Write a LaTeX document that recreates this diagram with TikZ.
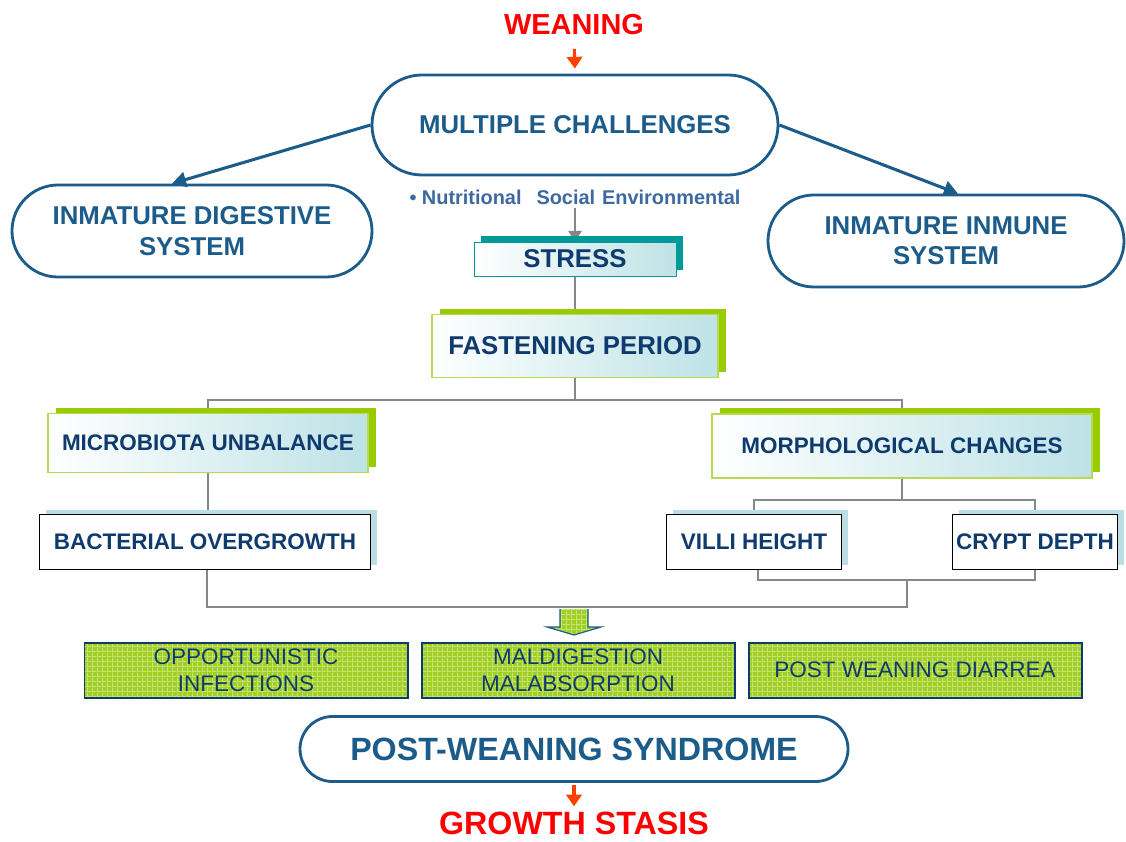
\documentclass[tikz,border=0pt]{standalone}
\usepackage{fontspec}
\setmainfont{Liberation Sans}
\usetikzlibrary{shapes.misc,arrows.meta,shadows,patterns,backgrounds}

\definecolor{pillblue}{RGB}{28,92,138}
\definecolor{navytext}{RGB}{14,58,110}
\definecolor{factorblue}{RGB}{62,104,160}
\definecolor{tealshadow}{RGB}{0,153,153}
\definecolor{limeshadow}{RGB}{153,204,0}
\definecolor{limeline}{RGB}{184,218,80}
\definecolor{cyanshade}{RGB}{190,226,230}
\definecolor{paleshadow}{RGB}{186,222,227}
\definecolor{limefill}{RGB}{162,206,42}
\definecolor{limegrid}{RGB}{200,230,115}
\definecolor{linegray}{RGB}{135,135,135}
\definecolor{alertred}{RGB}{255,0,0}
\definecolor{arrowred}{RGB}{255,64,0}

% wider grid than the one of the patterns library
\pgfdeclarepatternformonly{widegrid}{\pgfpointorigin}{\pgfpoint{4.4pt}{4.4pt}}{\pgfpoint{4.4pt}{4.4pt}}{
  \pgfsetlinewidth{0.9pt}
  \pgfpathmoveto{\pgfpoint{0pt}{0.45pt}}\pgfpathlineto{\pgfpoint{4.4pt}{0.45pt}}
  \pgfpathmoveto{\pgfpoint{0.45pt}{0pt}}\pgfpathlineto{\pgfpoint{0.45pt}{4.4pt}}
  \pgfusepath{stroke}}

\begin{document}
\begin{tikzpicture}[x=0.03cm, y=-0.03cm,
  boxsize/.style 2 args={minimum width=#1*0.03cm, minimum height=#2*0.03cm},
  bigfont/.style={font=\bfseries\fontsize{22}{26}\selectfont},
  midfont/.style={font=\bfseries\fontsize{19.2}{23}\selectfont},
  pill/.style={rounded rectangle, draw=pillblue, line width=2.4pt, fill=white,
    text=pillblue, align=center, inner sep=0pt, bigfont},
  shadebox/.style={rectangle, inner sep=0pt, align=center, text=navytext,
    left color=white, right color=cyanshade},
  limebox/.style={shadebox, draw=limeline, line width=1pt,
    drop shadow={shadow xshift=0.24cm, shadow yshift=0.18cm, fill=limeshadow, opacity=1}},
  tealbox/.style={shadebox, draw=tealshadow, line width=0.8pt,
    drop shadow={shadow xshift=0.21cm, shadow yshift=0.18cm, fill=tealshadow, opacity=1}},
  whitebox/.style={rectangle, draw=black, line width=1pt, fill=white, text=navytext,
    inner sep=0pt, midfont,
    drop shadow={shadow xshift=0.18cm, shadow yshift=0.15cm, fill=paleshadow, opacity=1}},
  gridfill/.style={preaction={fill=limefill}, pattern=widegrid, pattern color=limegrid},
  gridbox/.style={rectangle, draw=navytext, line width=1.7pt, gridfill,
    text=navytext, align=center, inner sep=0pt, font=\fontsize{19.2}{23}\selectfont},
  link/.style={draw=linegray, line width=2.3pt},
  bluearr/.style={-{Triangle[width=13pt,length=12pt]}, draw=pillblue, line width=2.6pt},
  grayarr/.style={link, -{Triangle[width=11pt,length=9pt]}},
  redarr/.style={-{Triangle[width=13pt,length=10pt]}, draw=arrowred, line width=2.6pt}
]
\useasboundingbox (0,0) rectangle (1126,841);

% top
\node[font=\bfseries\fontsize{24.7}{28}\selectfont, text=alertred, inner sep=0pt] (wean) at (574,25) {WEANING};
\node[pill, boxsize={406}{100}] (chal) at (575,125) {MULTIPLE CHALLENGES};
\node[pill, boxsize={360}{92}] (dig) at (192,231) {INMATURE DIGESTIVE\\SYSTEM};
\node[pill, boxsize={356}{92}] (imm) at (946,241) {INMATURE INMUNE\\SYSTEM};
\node[font=\bfseries\fontsize{17}{19}\selectfont, text=factorblue] (factors) at (575,197)
  {• Nutritional\hspace{0.75em}Social\hspace{0.35em}Environmental};

% middle
\node[tealbox, boxsize={202}{34}, bigfont] (stress) at (575,259) {STRESS};
\node[limebox, boxsize={286}{63}, bigfont] (fast) at (575,346) {FASTENING PERIOD};
\node[limebox, boxsize={320}{59}, midfont] (micro) at (208,443) {MICROBIOTA UNBALANCE};
\node[limebox, boxsize={380}{64}, midfont] (morph) at (902,446) {MORPHOLOGICAL CHANGES};
\node[whitebox, boxsize={331}{55}] (bact) at (205,542) {BACTERIAL OVERGROWTH};
\node[whitebox, boxsize={175}{55}] (villi) at (754,542) {VILLI HEIGHT};
\node[whitebox, boxsize={165}{55}] (crypt) at (1035,542) {CRYPT DEPTH};

% bottom
\node[gridbox, boxsize={323}{55}] (opp) at (246,670) {OPPORTUNISTIC\\INFECTIONS};
\node[gridbox, boxsize={313}{55}] (mal) at (578,670) {MALDIGESTION\\MALABSORPTION};
\node[gridbox, boxsize={333}{55}] (diar) at (915,670) {POST WEANING DIARREA};
\node[pill, boxsize={548}{65}, font=\bfseries\fontsize{27.5}{31}\selectfont] (pws) at (574,749) {POST-WEANING SYNDROME};
\node[font=\bfseries\fontsize{27.5}{31}\selectfont, text=alertred, inner sep=0pt] (growth) at (574,823) {GROWTH STASIS};

\coordinate (fastsplit) at (575,400);
\coordinate (morphsplit) at (902,500);
\coordinate (biojoin) at (907,580);
\coordinate (alljoin) at (574,607);

\draw[redarr, shorten <=0.4cm, shorten >=0.15cm] (wean.south) -- (chal.north);
\draw[bluearr] (chal.west) -- ([xshift=-0.6cm]dig.north);
\draw[bluearr] (chal.east) -- ([xshift=0.36cm]imm.north);
\draw[redarr, shorten <=0.06cm, shorten >=0.15cm] (pws.south) -- (growth.north);

\begin{scope}[on background layer]
  \draw[grayarr] (factors.south) -- (stress.north);
  \draw[link] (stress) -- (fast);
  \draw[link] (fast) -- (fastsplit);
  \draw[link] (micro.north) |- (fastsplit) -| (morph.north);
  \draw[link] (micro.south) -- (micro.south |- bact.north);
  \draw[link] (morph) -- (morphsplit);
  \draw[link] (villi.north) |- (morphsplit) -| (crypt.north);
  \draw[link] ([xshift=0.12cm]villi.south) |- (biojoin) -| (crypt.south);
  \draw[link] ([xshift=0.06cm]bact.south) |- (biojoin |- alljoin) -- (biojoin);
\end{scope}

% block arrow
\begin{scope}[shift={(alljoin)}]
  \draw[draw=pillblue, line width=1pt, gridfill]
    (-14,2) -- (-14,20) -- (-27,20) -- (0,28) -- (27,20) -- (14,20) -- (14,2);
\end{scope}

\end{tikzpicture}
\end{document}
